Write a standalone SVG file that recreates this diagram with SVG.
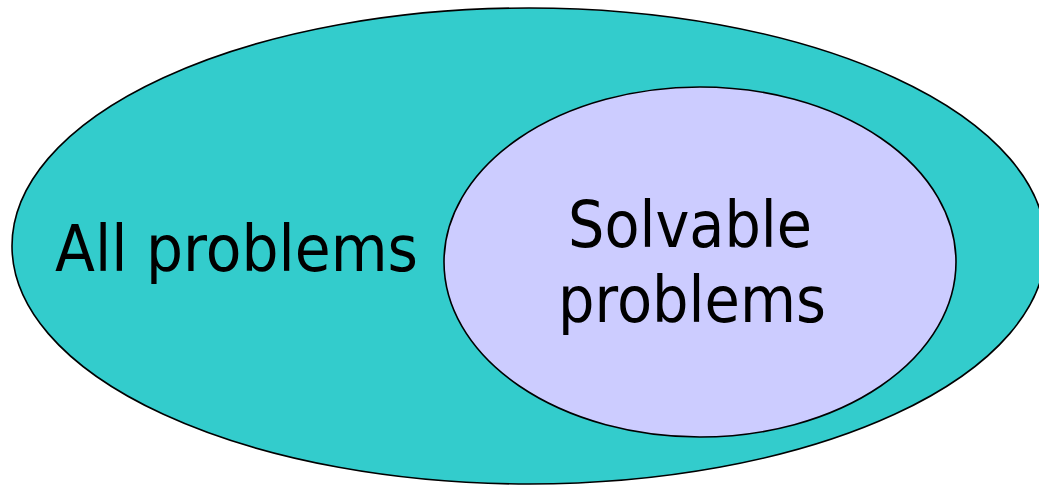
<svg xmlns="http://www.w3.org/2000/svg" width="1039" height="486" viewBox="0 0 1039 486">
<style>
.lbl{font-family:"Comic Sans MS","DejaVu Sans","Liberation Sans",sans-serif;font-size:64px;fill:#000}
.sh{stroke:#000;stroke-width:1.6}
</style>
<rect width="1039" height="486" fill="#fff"/>
<g id="all">
<ellipse class="sh" cx="529" cy="246" rx="517" ry="238" fill="#33CCCC"/>
<text class="lbl" x="55" y="271" textLength="363" lengthAdjust="spacingAndGlyphs">All problems</text>
</g>
<g id="solvable">
<ellipse class="sh" cx="700" cy="262" rx="256" ry="175" fill="#CCCCFF"/>
<text class="lbl" x="568" y="247" textLength="244" lengthAdjust="spacingAndGlyphs">Solvable</text>
<text class="lbl" x="558" y="322" textLength="268" lengthAdjust="spacingAndGlyphs">problems</text>
</g>
<g id="connectors"/>
</svg>
